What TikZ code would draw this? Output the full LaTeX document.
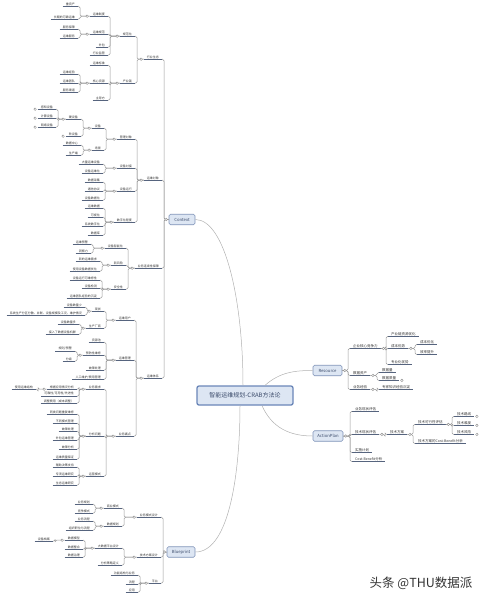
\documentclass[tikz,border=0pt]{standalone}
\usepackage{fontspec}
\setmainfont{Noto Sans CJK SC}
\definecolor{ulc}{HTML}{56647E}
\definecolor{lkc}{HTML}{999999}
\definecolor{txc}{HTML}{333333}
\definecolor{boxc}{HTML}{7F93B8}
\definecolor{boxf}{HTML}{DDE6F3}
\definecolor{rootc}{HTML}{6A86B8}
\definecolor{topt}{HTML}{3A4A6A}
\definecolor{mkc}{HTML}{909090}
\definecolor{mainc}{HTML}{B0B0B0}
\newcommand\fsL{\fontsize{3}{3.4}\selectfont}
\newcommand\fsR{\fontsize{3.5}{3.9}\selectfont}
\newcommand\fsT{\fontsize{4.2}{4.6}\selectfont}
\newcommand\LK[2]{\draw[lk] (#1) -| ([xshift=2pt]#2.south east) -- (#2.south east);}
\newcommand\RK[2]{\draw[lk] (#1) -| ([xshift=-2pt]#2.south west) -- (#2.south west);}
\newcommand\mkL[1]{\draw[mk] ([xshift=-2.5pt]#1) circle (1.3pt);}
\newcommand\mkR[1]{\draw[mk] ([xshift=2.5pt]#1) circle (1.3pt);}
\tikzset{
 lk/.style={draw=lkc, line width=0.5pt, rounded corners=1.5pt},
 ul/.style={draw=ulc, line width=0.7pt},
 tn/.style={inner xsep=3pt, inner ysep=0.6pt, text=txc,
   append after command={(\tikzlastnode.south west) edge[ul] (\tikzlastnode.south east)}},
 ln/.style={tn, anchor=east, font=\fsL},
 rn/.style={tn, anchor=west, font=\fsR},
 topbox/.style={draw=boxc, fill=boxf, line width=0.6pt, rounded corners=1.5pt,
   minimum width=28pt, minimum height=10.5pt, inner sep=0pt, font=\fsT, text=topt},
 rootbox/.style={draw=rootc, fill=boxf, line width=1.3pt, rounded corners=2pt,
   minimum width=96pt, minimum height=19pt, inner sep=0pt,
   font=\fontsize{6}{7}\selectfont, text=topt},
 mk/.style={draw=mkc, fill=white, line width=0.4pt},
 mainln/.style={draw=mainc, line width=0.5pt},
}
\begin{document}
\begin{tikzpicture}[x=1pt,y=-1pt]
\useasboundingbox (0,0) rectangle (485,600);
% ---------- central and top-level ----------
\node[rootbox] (root) at (245,395.5) {智能运维规划-CRAB方法论};
\node[topbox, minimum width=26pt] (ctx) at (182,219.5) {Context};
\node[topbox] (bp) at (181,552) {Blueprint};
\node[topbox, minimum width=29pt] (res) at (327.5,370.5) {Resource};
\node[topbox, minimum width=30pt] (ap) at (328,436) {ActionPlan};
\draw[mainln] ([xshift=-2pt]root.north) .. controls (243,300) and (225,219.5) .. (ctx.east);
\draw[mainln] ([xshift=-5pt]root.south) .. controls (240,470) and (230,552) .. (bp.east);
\draw[mainln] ([xshift=20pt]root.north) .. controls (280,372) and (295,370.5) .. (res.west);
\draw[mainln] ([xshift=17pt]root.south) .. controls (272,428) and (290,436) .. (ap.west);
% ---------- Context ----------
\node[ln] (c1) at (162,57) {行业生态};
\node[ln] (c1a) at (135,34) {规范化};
\node[ln] (c1a1) at (108,14) {运维制度};
\node[ln] (c1a1a) at (78,4) {重资产};
\node[ln] (c1a1b) at (78,17) {长期的可靠运维};
\node[ln] (c1a2) at (108,32) {运维规范};
\node[ln] (c1a2a) at (78,27) {服务保障};
\node[ln] (c1a2b) at (78,36) {运维服务};
\node[ln] (c1a3) at (108,45) {外包};
\node[ln] (c1a4) at (108,53) {行业监管};
\node[ln] (c1b) at (135,81) {产业链};
\node[ln] (c1b1) at (108,63) {运维标准};
\node[ln] (c1b2) at (108,81) {核心资源};
\node[ln] (c1b2a) at (78,72) {运维经验};
\node[ln] (c1b2b) at (78,81) {运维团队};
\node[ln] (c1b2c) at (78,90) {服务渠道};
\node[ln] (c1b3) at (108,98) {主导方};

\node[ln] (c2) at (162,178) {运维对象};
\node[ln] (c2a) at (135,137) {管理对象};
\node[ln] (c2a1) at (104,126) {设备};
\node[ln] (c2a1a) at (81,117) {硬设备};
\node[ln] (c2a1a1) at (56,107) {感知设备};
\node[ln] (c2a1a2) at (56,116) {计算设备};
\node[ln] (c2a1a3) at (56,125) {网络设备};
\node[ln] (c2a1b) at (81,134) {软设备};
\node[ln] (c2a2) at (104,148) {场景};
\node[ln] (c2a2a) at (81,143) {数据中心};
\node[ln] (c2a2b) at (81,153) {生产端};
\node[ln] (c2b) at (135,166) {设备对接};
\node[ln] (c2b1) at (103,162) {大量运维设备};
\node[ln] (c2b2) at (103,171) {设备运维化};
\node[ln] (c2c) at (135,189) {设备运行};
\node[ln] (c2c1) at (103,180) {数据采集};
\node[ln] (c2c2) at (103,189) {通信协议};
\node[ln] (c2c3) at (103,198) {设备数据化};
\node[ln] (c2d) at (135,220) {数字化程度};
\node[ln] (c2d1) at (103,206) {运维数据};
\node[ln] (c2d2) at (103,215) {可视化};
\node[ln] (c2d3) at (103,224) {系统数字化};
\node[ln] (c2d4) at (103,233) {数据库};

\node[ln] (c3) at (162,266) {业务连续性保障};
\node[ln] (c3a) at (126,246) {设备智能化};
\node[ln] (c3a1) at (91,242) {运维预警};
\node[ln] (c3a2) at (91,251) {洞察力};
\node[ln] (c3b) at (126,263) {新风险};
\node[ln] (c3b1) at (100,259) {新的运维需求};
\node[ln] (c3b2) at (100,269) {使用设备数据优化};
\node[ln] (c3c) at (126,287) {安全性};
\node[ln] (c3c1) at (100,278) {设备运行可维修性};
\node[ln] (c3c2) at (100,286) {设备检测};
\node[ln] (c3c3) at (100,296) {运维团队经验的沉淀};

\node[ln] (c4) at (162,376) {运维体系};
\node[ln] (c4a) at (134,318) {运维用户};
\node[ln] (c4a1) at (104,309) {现状};
\node[ln] (c4a1a) at (85,305) {设备数量少};
\node[ln] (c4a1b) at (85,313) {系统生产分区分散、并联、设备规模及工况、维护情况};
\node[ln] (c4a2) at (104,326) {生产厂商};
\node[ln] (c4a2a) at (79,322) {设备数量多};
\node[ln] (c4a2b) at (79,332) {接入了数据设备机群};
\node[ln] (c4b) at (134,358) {运维管理};
\node[ln] (c4b1) at (104,340) {资源池};
\node[ln] (c4b2) at (104,353) {预防性维修};
\node[ln] (c4b2a) at (75,349) {规则/预警};
\node[ln] (c4b2b) at (75,359) {分级};
\node[ln] (c4b3) at (104,368) {故障处理};
\node[ln] (c4b4) at (104,377) {人工维护/费用管理};
\node[ln] (c4c) at (134,434) {业务痛点};
\node[ln] (c4c1) at (104,387) {业务需求};
\node[ln] (c4c1a) at (77,387) {根据应用情况分析};
\node[ln] (c4c1a1) at (36,387) {使用运维结构};
\node[ln] (c4c1b) at (77,394) {可靠性/可用性/先进性};
\node[ln] (c4c1c) at (77,401) {调整费用（成本调整）};
\node[ln] (c4c2) at (104,434) {分析问题};
\node[ln] (c4c2a) at (77,412) {同类问题重复维修};
\node[ln] (c4c2b) at (77,421) {不同模式管理};
\node[ln] (c4c2c) at (77,429) {故障处理};
\node[ln] (c4c2d) at (77,438) {外包运维管理};
\node[ln] (c4c2e) at (77,447) {故障分析};
\node[ln] (c4c2f) at (77,457) {运维质量保证};
\node[ln] (c4c3) at (104,474) {运营模式};
\node[ln] (c4c3a) at (77,465) {辅助决策支持};
\node[ln] (c4c3b) at (77,474) {专项运维研究};
\node[ln] (c4c3c) at (77,483) {生态运维研究};
% ---------- Blueprint ----------
\node[ln] (b1) at (161,515) {业务模式设计};
\node[ln] (b1a) at (122,506) {商业模式};
\node[ln] (b1a1) at (93,502) {业务规划};
\node[ln] (b1a2) at (93,511) {竞争模式};
\node[ln] (b1b) at (122,524) {数据规划};
\node[ln] (b1b1) at (93,519) {业务流程};
\node[ln] (b1b2) at (93,528) {组织职位与流程};
\node[ln] (b2) at (161,555) {技术方案设计};
\node[ln] (b2a) at (122,546) {大数据平台设计};
\node[ln] (b2a1) at (83,538) {数据模型};
\node[ln] (b2a1a) at (53,539) {设备档案};
\node[ln] (b2a2) at (83,547) {数据整合};
\node[ln] (b2a3) at (83,555) {数据治理};
\node[ln] (b2b) at (122,563) {分析策略定义};
\node[ln] (b3) at (161,581) {平台};
\node[ln] (b3a) at (138,573) {功能结构与业务};
\node[ln] (b3b) at (138,582) {流程};
\node[ln] (b3c) at (138,590) {应用};
% ---------- Resource ----------
\node[rn] (r1) at (350,346) {企业核心竞争力};
\node[rn] (r1a) at (388,334) {产业链资源优化};
\node[rn] (r1b) at (388,346) {成本优势};
\node[rn] (r1b1) at (417,342) {成本优化};
\node[rn] (r1b2) at (417,352) {效率提升};
\node[rn] (r1c) at (388,362) {专业化优势};
\node[rn] (r2) at (350,373) {数据资产};
\node[rn] (r2a) at (379,370) {数据量};
\node[rn] (r2b) at (379,378) {数据质量};
\node[rn] (r3) at (350,387) {业务经验};
\node[rn] (r3a) at (379,387) {专家知识经验沉淀};
% ---------- ActionPlan ----------
\node[rn] (a1) at (352,409) {业务现状评估};
\node[rn] (a2) at (352,432) {技术现状评估};
\node[rn] (a2a) at (387,432) {技术方案};
\node[rn] (a2a1) at (415,422) {技术可行性评估};
\node[rn] (a2a1a) at (454,414) {技术路线};
\node[rn] (a2a1b) at (454,423) {技术难度};
\node[rn] (a2a1c) at (454,432) {技术风险};
\node[rn] (a2a2) at (415,441) {技术方案的Cost-Benefit分析};
\node[rn] (a3) at (352,450) {实施计划};
\node[rn] (a4) at (352,459) {Cost-Benefit分析};
% ---------- connectors (left) ----------
\foreach \c in {c1,c2,c3,c4} {\LK{ctx.west}{\c}}
\foreach \c in {c1a,c1b} {\LK{c1.south west}{\c}}
\foreach \c in {c1a1,c1a2,c1a3,c1a4} {\LK{c1a.south west}{\c}}
\foreach \c in {c1a1a,c1a1b} {\LK{c1a1.south west}{\c}}
\foreach \c in {c1a2a,c1a2b} {\LK{c1a2.south west}{\c}}
\foreach \c in {c1b1,c1b2,c1b3} {\LK{c1b.south west}{\c}}
\foreach \c in {c1b2a,c1b2b,c1b2c} {\LK{c1b2.south west}{\c}}
\foreach \c in {c2a,c2b,c2c,c2d} {\LK{c2.south west}{\c}}
\foreach \c in {c2a1,c2a2} {\LK{c2a.south west}{\c}}
\foreach \c in {c2a1a,c2a1b} {\LK{c2a1.south west}{\c}}
\foreach \c in {c2a1a1,c2a1a2,c2a1a3} {\LK{c2a1a.south west}{\c}}
\foreach \c in {c2a2a,c2a2b} {\LK{c2a2.south west}{\c}}
\foreach \c in {c2b1,c2b2} {\LK{c2b.south west}{\c}}
\foreach \c in {c2c1,c2c2,c2c3} {\LK{c2c.south west}{\c}}
\foreach \c in {c2d1,c2d2,c2d3,c2d4} {\LK{c2d.south west}{\c}}
\foreach \c in {c3a,c3b,c3c} {\LK{c3.south west}{\c}}
\foreach \c in {c3a1,c3a2} {\LK{c3a.south west}{\c}}
\foreach \c in {c3b1,c3b2} {\LK{c3b.south west}{\c}}
\foreach \c in {c3c1,c3c2,c3c3} {\LK{c3c.south west}{\c}}
\foreach \c in {c4a,c4b,c4c} {\LK{c4.south west}{\c}}
\foreach \c in {c4a1,c4a2} {\LK{c4a.south west}{\c}}
\foreach \c in {c4a1a,c4a1b} {\LK{c4a1.south west}{\c}}
\foreach \c in {c4a2a,c4a2b} {\LK{c4a2.south west}{\c}}
\foreach \c in {c4b1,c4b2,c4b3,c4b4} {\LK{c4b.south west}{\c}}
\foreach \c in {c4b2a,c4b2b} {\LK{c4b2.south west}{\c}}
\foreach \c in {c4c1,c4c2,c4c3} {\LK{c4c.south west}{\c}}
\foreach \c in {c4c1a,c4c1b,c4c1c} {\LK{c4c1.south west}{\c}}
\LK{c4c1a.south west}{c4c1a1}
\foreach \c in {c4c2a,c4c2b,c4c2c,c4c2d,c4c2e,c4c2f} {\LK{c4c2.south west}{\c}}
\foreach \c in {c4c3a,c4c3b,c4c3c} {\LK{c4c3.south west}{\c}}
\foreach \c in {b1,b2,b3} {\LK{bp.west}{\c}}
\foreach \c in {b1a,b1b} {\LK{b1.south west}{\c}}
\foreach \c in {b1a1,b1a2} {\LK{b1a.south west}{\c}}
\foreach \c in {b1b1,b1b2} {\LK{b1b.south west}{\c}}
\foreach \c in {b2a,b2b} {\LK{b2.south west}{\c}}
\foreach \c in {b2a1,b2a2,b2a3} {\LK{b2a.south west}{\c}}
\LK{b2a1.south west}{b2a1a}
\foreach \c in {b3a,b3b,b3c} {\LK{b3.south west}{\c}}
% ---------- connectors (right) ----------
\foreach \c in {r1,r2,r3} {\RK{res.east}{\c}}
\foreach \c in {r1a,r1b,r1c} {\RK{r1.south east}{\c}}
\foreach \c in {r1b1,r1b2} {\RK{r1b.south east}{\c}}
\foreach \c in {r2a,r2b} {\RK{r2.south east}{\c}}
\RK{r3.south east}{r3a}
\foreach \c in {a1,a2,a3,a4} {\RK{ap.east}{\c}}
\RK{a2.south east}{a2a}
\foreach \c in {a2a1,a2a2} {\RK{a2a.south east}{\c}}
\foreach \c in {a2a1a,a2a1b,a2a1c} {\RK{a2a1.south east}{\c}}
% ---------- markers ----------
\mkL{ctx.west} \mkL{bp.west} \mkR{res.east} \mkR{ap.east}
\foreach \n in {c1,c1a,c1a1,c1a2,c1b,c1b2,c2,c2a,c2a1,c2a1a,c2a2,c2b,c2c,c2d,
  c2a1a1,c2a1a2,c2a1a3,c2a1b,c3,c3a,c3b,c3c,c4,c4a,c4a1,c4a2,c4b,c4b2,c4c,
  c4c1,c4c1a,c4c2,c4c3,b1,b1a,b1b,b2,b2a,b2a1,b3} {\mkL{\n.south west}}
\foreach \n in {r1,r1b,r2,r3,r2b,a2,a2a,a2a1,a2a1a,a2a1b,a2a1c} {\mkR{\n.south east}}
% ---------- watermark ----------
\node[font=\fontsize{12.5}{13}\selectfont, text=black!80] (wm) at (421,583) {头条 @THU数据派};
\end{tikzpicture}
\end{document}
